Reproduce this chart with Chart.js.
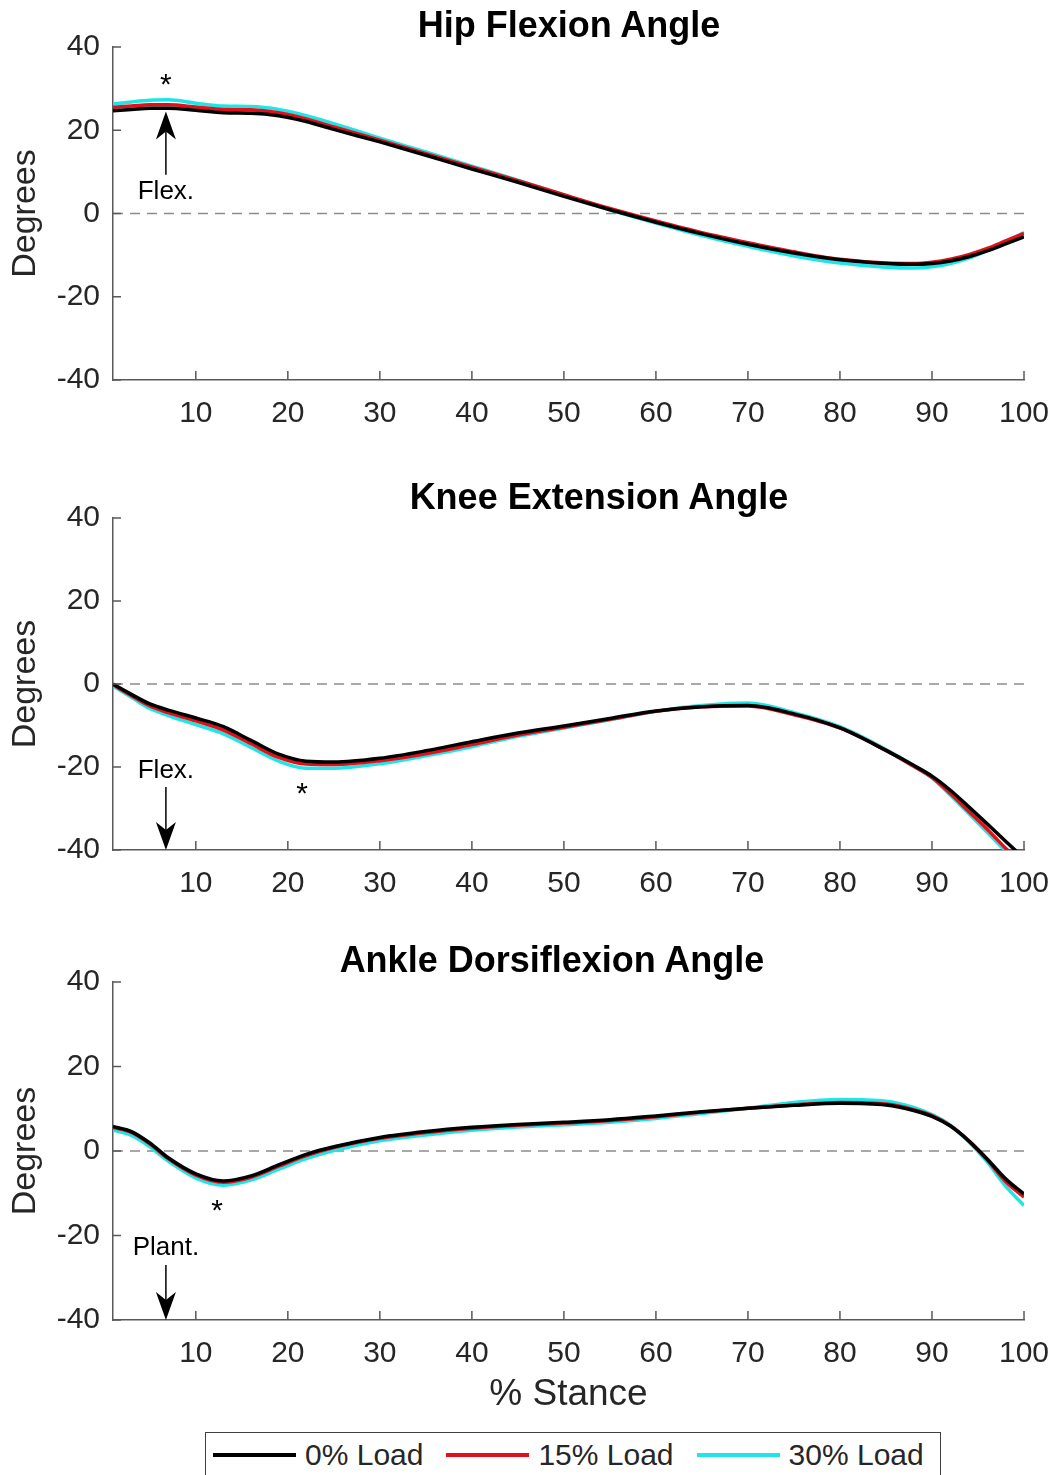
<!DOCTYPE html>
<html>
<head>
<meta charset="utf-8">
<script src="https://cdn.jsdelivr.net/npm/chart.js@4.4.1/dist/chart.umd.min.js"></script>
<style>
  body { margin: 0; background: #fff; font-family: "Liberation Sans", Arial, sans-serif; }
  #page { position: relative; width: 1057px; height: 1475px; overflow: hidden; }
  .panel { position: absolute; left: 0; width: 1057px; }
  .title { position: absolute; width: 700px; text-align: center; font-weight: bold;
           font-size: 36px; line-height: 40px; color: #000; white-space: nowrap; }
  #legend { position: absolute; left: 205px; top: 1432px; width: 727px; height: 60px;
            border: 1.5px solid #404040; display: flex; align-items: flex-start;
            padding-left: 7px; white-space: nowrap; }
  #legend .item { display: flex; align-items: center; height: 44px; margin-right: 23px; flex-shrink: 0; }
  #legend .swatch { width: 83px; height: 4px; margin-right: 9px; flex-shrink: 0; }
  #legend .txt { font-size: 30px; color: #262626; }
</style>
</head>
<body>
<div id="page">
  <div class="panel" style="top:0;height:440px"><canvas id="hipChart"></canvas></div>
  <div class="panel" style="top:440px;height:465px"><canvas id="kneeChart"></canvas></div>
  <div class="panel" style="top:905px;height:515px"><canvas id="ankleChart"></canvas></div>
  <div class="title" style="left:219px;top:5px">Hip Flexion Angle</div>
  <div class="title" style="left:249px;top:477px">Knee Extension Angle</div>
  <div class="title" style="left:202px;top:940px">Ankle Dorsiflexion Angle</div>
  <div id="legend"></div>
</div>
<script>
// % of stance where each curve is sampled
const stance = [1, 3, 5, 7, 10, 13, 16, 19, 22, 25, 30, 35, 40, 45, 50, 55, 60, 65, 70, 75, 80, 85, 88, 90, 92, 94, 96, 98, 100];
const loadNames = ["0% Load", "15% Load", "30% Load"];
const loadColors = ["#000000", "#e3101a", "#1ee6e6"];
const xTicks = [10, 20, 30, 40, 50, 60, 70, 80, 90, 100];
const yTicks = [-40, -20, 0, 20, 40];

// hip flexion (deg)
const hip0  = [24.7, 25.0, 25.3, 25.3, 24.8, 24.2, 24.1, 23.5, 22.1, 20.2, 17.2, 14.0, 10.7, 7.5, 4.1, 0.9, -2.1, -4.9, -7.4, -9.5, -11.1, -12.0, -12.2, -12.0, -11.4, -10.4, -9.0, -7.3, -5.6];
const hip15 = [25.5, 25.8, 26.1, 26.1, 25.6, 25.0, 24.9, 24.2, 22.7, 20.8, 17.6, 14.4, 11.1, 7.9, 4.5, 1.2, -1.8, -4.6, -7.0, -9.2, -11.0, -11.9, -12.0, -11.7, -11.0, -9.9, -8.4, -6.6, -4.8];
const hip30 = [26.3, 26.8, 27.2, 27.3, 26.5, 25.8, 25.7, 25.0, 23.5, 21.6, 18.1, 14.8, 11.4, 8.0, 4.4, 0.9, -2.3, -5.3, -7.9, -10.2, -11.9, -12.9, -13.1, -12.8, -12.0, -10.7, -8.9, -6.8, -4.6];

// knee extension (deg)
const knee0  = [0.0, -2.5, -4.8, -6.3, -8.2, -10.3, -13.6, -16.9, -18.6, -18.8, -17.9, -16.1, -13.9, -11.8, -10.1, -8.3, -6.5, -5.5, -5.2, -7.2, -10.6, -16.0, -19.6, -22.2, -25.6, -29.6, -33.7, -37.9, -42.0];
const knee15 = [-0.2, -2.8, -5.3, -6.9, -8.9, -11.1, -14.4, -17.7, -19.3, -19.4, -18.5, -16.8, -14.6, -12.3, -10.4, -8.5, -6.6, -5.5, -5.3, -7.4, -10.6, -16.0, -19.8, -22.5, -26.4, -30.7, -35.0, -39.6, -44.0];
const knee30 = [-0.5, -3.2, -5.9, -7.6, -9.8, -12.0, -15.3, -18.6, -20.3, -20.3, -19.2, -17.3, -15.1, -12.6, -10.6, -8.6, -6.6, -5.2, -4.6, -6.9, -10.3, -15.8, -19.7, -22.6, -26.8, -31.2, -35.7, -40.3, -45.0];

// ankle dorsiflexion (deg)
const ankle0  = [5.8, 4.6, 1.9, -1.6, -5.4, -7.1, -5.9, -3.3, -0.8, 1.0, 3.2, 4.6, 5.6, 6.3, 6.8, 7.4, 8.3, 9.3, 10.1, 10.8, 11.3, 10.9, 9.6, 8.2, 5.9, 2.4, -1.9, -6.6, -10.2];
const ankle15 = [5.6, 4.4, 1.7, -1.8, -5.7, -7.4, -6.2, -3.6, -1.1, 0.8, 3.0, 4.4, 5.4, 6.1, 6.6, 7.2, 8.1, 9.2, 10.1, 10.9, 11.5, 11.1, 9.8, 8.4, 6.0, 2.4, -2.1, -7.2, -10.9];
const ankle30 = [5.0, 3.7, 1.0, -2.4, -6.4, -8.1, -6.9, -4.3, -1.8, 0.1, 2.4, 3.8, 4.9, 5.7, 6.2, 6.8, 7.7, 8.9, 10.1, 11.5, 12.2, 11.8, 10.3, 8.6, 6.1, 2.2, -2.6, -8.3, -12.9];

const tickColor = "#262626";
const axisColor = "#595959";
const fontFamily = "'Liberation Sans', Arial, sans-serif";

// dashed zero line, inward tick marks and the little arrow/star notes
const decor = {
  id: "decor",
  beforeDatasetsDraw(chart) {
    const { ctx, chartArea: a, scales: { y } } = chart;
    const y0 = y.getPixelForValue(0);
    ctx.save();
    ctx.strokeStyle = "#8c8c8c";
    ctx.lineWidth = 1.5;
    ctx.setLineDash([10, 7]);
    ctx.beginPath();
    ctx.moveTo(a.left, y0);
    ctx.lineTo(a.right, y0);
    ctx.stroke();
    ctx.restore();
  },
  afterDraw(chart, args, opts) {
    const { ctx, chartArea: a, scales: { x, y } } = chart;
    ctx.save();
    ctx.strokeStyle = axisColor;
    ctx.lineWidth = 1.5;
    ctx.beginPath();
    xTicks.forEach(v => {
      const px = x.getPixelForValue(v);
      ctx.moveTo(px, a.bottom);
      ctx.lineTo(px, a.bottom - 9);
    });
    yTicks.forEach(v => {
      const py = y.getPixelForValue(v);
      ctx.moveTo(a.left, py);
      ctx.lineTo(a.left + 8, py);
    });
    ctx.stroke();

    const n = opts.note;
    if (n) {
      ctx.fillStyle = "#000";
      ctx.strokeStyle = "#000";
      ctx.textAlign = "center";
      // star
      ctx.font = "30px " + fontFamily;
      ctx.textBaseline = "alphabetic";
      ctx.fillText("*", x.getPixelForValue(n.starX), y.getPixelForValue(n.starY) + 17);
      // label
      ctx.font = "26px " + fontFamily;
      ctx.textBaseline = "middle";
      ctx.fillText(n.text, x.getPixelForValue(n.arrowX), y.getPixelForValue(n.textY));
      // arrow
      const ax = x.getPixelForValue(n.arrowX);
      const from = y.getPixelForValue(n.arrowFrom);
      const tip = y.getPixelForValue(n.arrowTo);
      const d = Math.sign(tip - from);
      ctx.lineWidth = 1.5;
      ctx.beginPath();
      ctx.moveTo(ax, from);
      ctx.lineTo(ax, tip - d * 18);
      ctx.stroke();
      ctx.beginPath();
      ctx.moveTo(ax, tip);
      ctx.lineTo(ax - 10, tip - d * 28);
      ctx.lineTo(ax, tip - d * 20);
      ctx.lineTo(ax + 10, tip - d * 28);
      ctx.closePath();
      ctx.fill();
    }
    ctx.restore();
  }
};

const makeChart = (id, series, padTop, xHeight, xTitle, note) => {
  const data = {
    labels: stance,
    datasets: series.map((vals, i) => ({
      label: loadNames[i],
      data: vals.map((v, k) => ({ x: stance[k], y: v })),
      borderColor: loadColors[i],
      borderWidth: 3.5,
      pointRadius: 0,
      cubicInterpolationMode: "monotone",
      clip: 0,
      fill: false
    }))
  };
  const options = {
    responsive: true,
    maintainAspectRatio: false,
    animation: false,
    layout: { padding: { top: padTop, right: 33, bottom: 0, left: 0 } },
    plugins: {
      legend: { display: false },
      tooltip: { enabled: false },
      decor: { note }
    },
    scales: {
      x: {
        type: "linear",
        min: 1,
        max: 100,
        afterBuildTicks: s => { s.ticks = xTicks.map(v => ({ value: v })); },
        afterFit: s => { s.height = xHeight; s.paddingLeft = 0; s.paddingRight = 0; },
        grid: { display: false, drawTicks: false },
        border: { display: true, color: axisColor, width: 1.5 },
        ticks: { color: tickColor, padding: 16, maxRotation: 0, font: { size: 30, family: fontFamily } },
        title: {
          display: xTitle,
          text: "% Stance",
          color: tickColor,
          font: { size: 37, family: fontFamily },
          padding: { top: 0, bottom: 3 }
        }
      },
      y: {
        min: -40,
        max: 40,
        afterBuildTicks: s => { s.ticks = yTicks.map(v => ({ value: v })); },
        afterFit: s => { s.width = 113; },
        grid: { display: false, drawTicks: false },
        border: { display: true, color: axisColor, width: 1.5 },
        ticks: { color: tickColor, padding: 13, font: { size: 30, family: fontFamily } },
        title: {
          display: true,
          text: "Degrees",
          color: tickColor,
          font: { size: 34, family: fontFamily },
          padding: { top: 5, bottom: 0 }
        }
      }
    }
  };
  return new Chart(id, { type: "line", data, options, plugins: [decor] });
};

makeChart("hipChart", [hip0, hip15, hip30], 47, 60, false,
  { starX: 6.75, starY: 32.8, text: "Flex.", textY: 5.2, arrowX: 6.75, arrowFrom: 9.3, arrowTo: 24.5 });
makeChart("kneeChart", [knee0, knee15, knee30], 78, 55, false,
  { starX: 21.55, starY: -24.5, text: "Flex.", textY: -21.0, arrowX: 6.75, arrowFrom: -24.8, arrowTo: -40 });
makeChart("ankleChart", [ankle0, ankle15, ankle30], 77, 100, true,
  { starX: 12.3, starY: -12.3, text: "Plant.", textY: -23.0, arrowX: 6.75, arrowFrom: -27, arrowTo: -40 });

// shared legend under the last panel
const legend = document.getElementById("legend");
loadNames.forEach((name, i) => {
  const item = document.createElement("div");
  item.className = "item";
  item.innerHTML = `<span class="swatch" style="background:${loadColors[i]}"></span><span class="txt">${name}</span>`;
  legend.appendChild(item);
});
</script>
</body>
</html>
